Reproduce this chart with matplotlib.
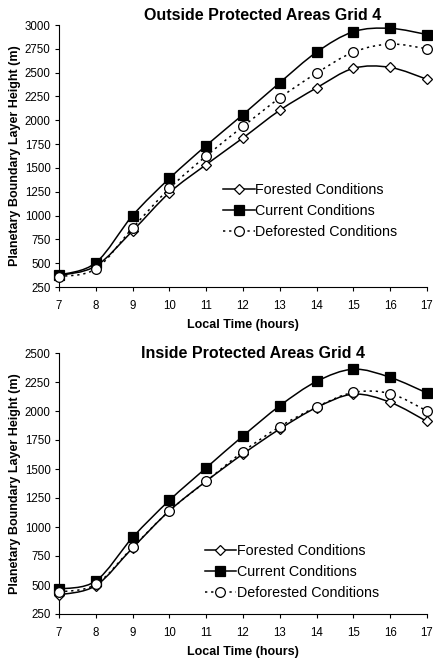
import matplotlib
matplotlib.use("Agg")
import matplotlib.pyplot as plt
from matplotlib.path import Path
from matplotlib.patches import PathPatch
from matplotlib.lines import Line2D
import numpy as np

plt.rcParams['font.family'] = ['Liberation Sans', 'DejaVu Sans']

hours = [7, 8, 9, 10, 11, 12, 13, 14, 15, 16, 17]

# Outside protected areas
out_forested = [370, 470, 840, 1240, 1535, 1815, 2105, 2340, 2545, 2555, 2430]
out_current = [375, 505, 1000, 1390, 1735, 2060, 2395, 2715, 2930, 2965, 2900]
out_deforested = [360, 440, 870, 1285, 1625, 1935, 2235, 2495, 2715, 2800, 2750]

# Inside protected areas
in_forested = [415, 495, 820, 1140, 1395, 1630, 1845, 2030, 2145, 2075, 1910]
in_current = [465, 535, 910, 1230, 1510, 1785, 2045, 2255, 2360, 2290, 2155]
in_deforested = [440, 505, 825, 1140, 1395, 1650, 1865, 2035, 2160, 2150, 2000]

labels = ["Forested Conditions", "Current Conditions", "Deforested Conditions"]


def smooth_path(x, y):
    # bezier segments like Excel's smoothed line
    x = np.asarray(x, float)
    y = np.asarray(y, float)
    pts = np.column_stack([x, y])
    n = len(pts)
    verts = [pts[0]]
    codes = [Path.MOVETO]
    for i in range(n - 1):
        p0 = pts[i - 1] if i > 0 else pts[i]
        p1 = pts[i]
        p2 = pts[i + 1]
        p3 = pts[i + 2] if i + 2 < n else pts[i + 1]
        c1 = p1 + (p2 - p0) / 6.0
        c2 = p2 - (p3 - p1) / 6.0
        verts += [c1, c2, p2]
        codes += [Path.CURVE4] * 3
    return Path(verts, codes)


styles = [
    dict(marker='D', mfc='white', mec='black', ms=5, ls='-'),
    dict(marker='s', mfc='black', mec='black', ms=6.5, ls='-'),
    dict(marker='o', mfc='white', mec='black', ms=7, ls=(0, (1.5, 2.5))),
]


def draw_panel(ax, series, title, title_xy, ylim, yticks, legend_anchor):
    for y, st in zip(series, styles):
        patch = PathPatch(smooth_path(hours, y), fill=False, edgecolor='black',
                          lw=1.1, linestyle=st['ls'], clip_on=False)
        ax.add_patch(patch)
    for y, st in zip(series, styles):
        ax.plot(hours, y, linestyle='none', marker=st['marker'], mfc=st['mfc'],
                mec=st['mec'], ms=st['ms'], mew=0.9, clip_on=False, zorder=3)
    ax.set_xlim(7, 17)
    ax.set_ylim(*ylim)
    ax.set_xticks(hours)
    ax.set_yticks(yticks)
    ax.spines['top'].set_visible(False)
    ax.spines['right'].set_visible(False)
    ax.tick_params(direction='out', length=3, width=0.8, labelsize=8.3)
    ax.tick_params(axis='x', pad=6.5)
    ax.tick_params(axis='y', pad=3)
    ax.set_xlabel("Local Time (hours)", fontsize=9, fontweight='bold', labelpad=5)
    ax.set_ylabel("Planetary Boundary Layer Height (m)", fontsize=9,
                  fontweight='bold', labelpad=2.5)
    ax.text(title_xy[0], title_xy[1], title, transform=ax.transAxes,
            ha='center', va='center', fontsize=11.5, fontweight='bold')
    handles = [Line2D([], [], color='black', lw=1.1, linestyle=st['ls'],
                      marker=st['marker'], mfc=st['mfc'], mec=st['mec'],
                      ms=st['ms'], mew=0.9) for st in styles]
    ax.legend(handles, labels, loc='center left', bbox_to_anchor=legend_anchor,
              frameon=False, fontsize=10.3, handlelength=2.2, handletextpad=0.05,
              labelspacing=0.5, borderpad=0, borderaxespad=0)


fig = plt.figure(figsize=(4.33, 6.58), dpi=100)
W, H = 433.0, 658.0
ax1 = fig.add_axes([59 / W, 1 - 287 / H, (427 - 59) / W, (287 - 25) / H])
ax2 = fig.add_axes([59 / W, 1 - 614 / H, (427 - 59) / W, (614 - 353) / H])

draw_panel(ax1, [out_forested, out_current, out_deforested],
           "Outside Protected Areas Grid 4", (0.552, 1.035), (250, 3000),
           range(250, 3001, 250), (0.446, 0.29))
draw_panel(ax2, [in_forested, in_current, in_deforested],
           "Inside Protected Areas Grid 4", (0.526, 1.0), (250, 2500),
           range(250, 2501, 250), (0.396, 0.162))

fig.savefig("out.png", dpi=100)
